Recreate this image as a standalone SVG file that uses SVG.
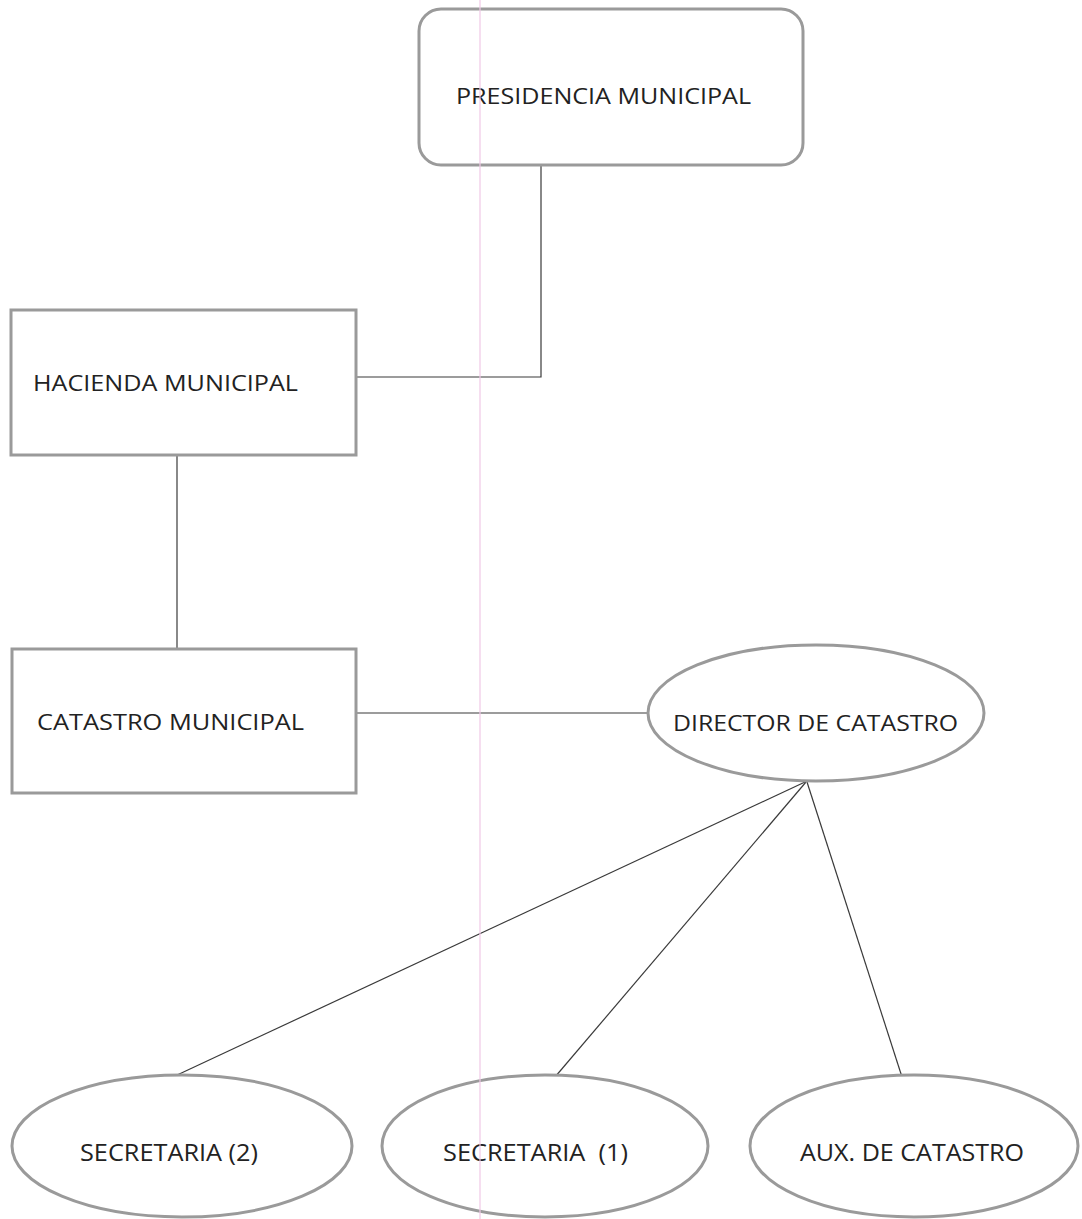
<svg xmlns="http://www.w3.org/2000/svg" width="1082" height="1219" viewBox="0 0 1082 1219">
<style>
.shape{fill:#fff;stroke:#9a9a9a;stroke-width:3}
.conn{fill:none;stroke:#3a3a3a;stroke-width:1.2}
.lbl{font-family:"Open Sans","Noto Sans",sans-serif;font-size:22px;fill:#222}
.lbl2{font-family:"Open Sans","Noto Sans",sans-serif;font-size:24px;fill:#222}
</style>
<rect width="1082" height="1219" fill="#fff"/>
<g id="connectors">
<polyline class="conn" points="541,165 541,377 357,377"/>
<line class="conn" x1="177" y1="455" x2="177" y2="648"/>
<line class="conn" x1="357" y1="713" x2="650" y2="713"/>
<line class="conn" x1="805" y1="782" x2="175" y2="1076"/>
<line class="conn" x1="806" y1="782" x2="555" y2="1077"/>
<line class="conn" x1="807" y1="782" x2="902" y2="1077"/>
</g>
<g id="presidencia">
<rect class="shape" x="419" y="9" width="384" height="156" rx="22"/>
<text class="lbl" x="456" y="104" textLength="295" lengthAdjust="spacingAndGlyphs">PRESIDENCIA MUNICIPAL</text>
</g>
<g id="hacienda">
<rect class="shape" x="11" y="310" width="345" height="145"/>
<text class="lbl" x="33" y="391" textLength="265" lengthAdjust="spacingAndGlyphs">HACIENDA MUNICIPAL</text>
</g>
<g id="catastro">
<rect class="shape" x="12" y="649" width="344" height="144"/>
<text class="lbl" x="37" y="730" textLength="267" lengthAdjust="spacingAndGlyphs">CATASTRO MUNICIPAL</text>
</g>
<g id="director">
<ellipse class="shape" cx="816" cy="713" rx="168" ry="68"/>
<text class="lbl" x="673" y="731" textLength="285" lengthAdjust="spacingAndGlyphs">DIRECTOR DE CATASTRO</text>
</g>
<g id="secretaria2">
<ellipse class="shape" cx="182" cy="1146" rx="170" ry="71"/>
<text class="lbl2" x="80" y="1161" textLength="178" lengthAdjust="spacingAndGlyphs">SECRETARIA (2)</text>
</g>
<g id="secretaria1">
<ellipse class="shape" cx="545" cy="1146" rx="163" ry="71"/>
<text class="lbl2" x="443" y="1161" textLength="185" lengthAdjust="spacingAndGlyphs" xml:space="preserve">SECRETARIA  (1)</text>
</g>
<g id="aux">
<ellipse class="shape" cx="914" cy="1146" rx="164" ry="71"/>
<text class="lbl2" x="800" y="1161" textLength="224" lengthAdjust="spacingAndGlyphs">AUX. DE CATASTRO</text>
</g>
<line x1="480" y1="0" x2="480" y2="1219" stroke="#f0c8e6" stroke-width="1.2"/>
</svg>
